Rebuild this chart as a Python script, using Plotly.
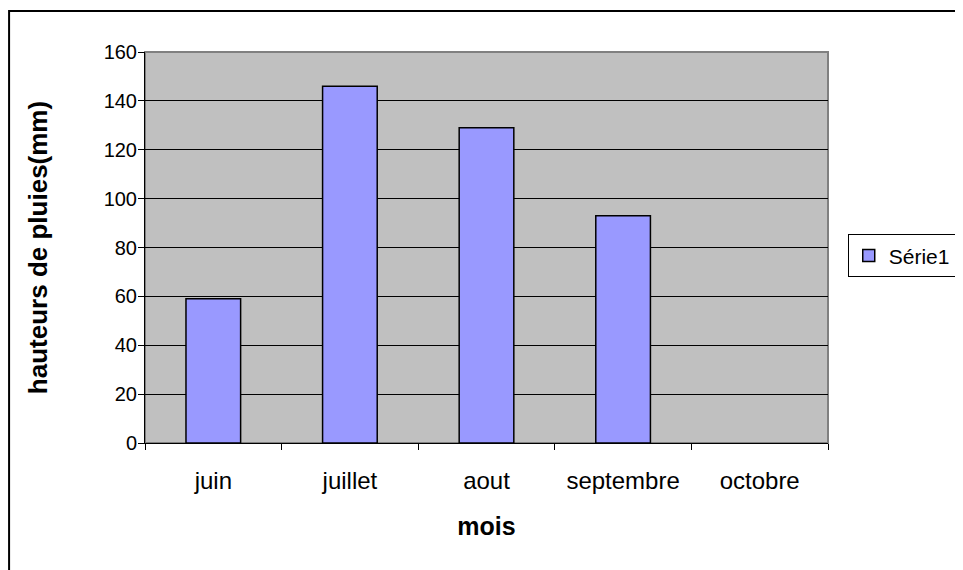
import plotly.graph_objects as go

categories = ["juin", "juillet", "aout", "septembre", "octobre"]
values = [59, 146, 129, 93, None]
series_name = "Série1"
y_ticks = [0, 20, 40, 60, 80, 100, 120, 140, 160]

FONT = "Liberation Sans, Arial, sans-serif"

fig = go.Figure()
fig.add_trace(go.Bar(
    x=categories, y=values, name=series_name,
    marker=dict(color="#9999FF", line=dict(color="black", width=1.5)),
    showlegend=True,
))

fig.update_layout(
    width=963, height=570,
    margin=dict(l=137, r=143, t=44, b=135, autoexpand=False),
    paper_bgcolor="white",
    plot_bgcolor="#C0C0C0",
    bargap=0.6,
    font=dict(family=FONT, size=22, color="black"),
    showlegend=True,
    legend=dict(
        xref="container", yref="container",
        x=0.872, y=0.565, xanchor="left", yanchor="middle",
        bordercolor="black", borderwidth=1, bgcolor="white",
        font=dict(size=21), itemwidth=30,
    ),
    xaxis=dict(
        title=dict(text="<b>mois</b>", font=dict(size=25), standoff=24),
        tickfont=dict(size=24),
        tickson="boundaries", ticks="outside", ticklen=6, tickcolor="black",
        ticklabelstandoff=16,
        showline=True, linecolor="black", linewidth=1,
        showgrid=False, mirror=False,
    ),
    yaxis=dict(
        title=dict(text="<b>hauteurs de pluies(mm)</b>", font=dict(size=26), standoff=48),
        tickfont=dict(size=20),
        range=[0, 160], tickvals=y_ticks, ticks="outside", ticklen=6,
        ticklabelstandoff=-3,
        tickcolor="black", showline=True, linecolor="black", linewidth=1,
        showgrid=True, gridcolor="black", gridwidth=1, zeroline=False,
    ),
    shapes=[
        dict(type="rect", xref="paper", yref="paper", x0=0, x1=1, y0=0, y1=1,
             line=dict(color="#808080", width=2), layer="below"),
        dict(type="rect", xref="paper", yref="paper",
             x0=-0.199, x1=1.3, y0=-0.5, y1=1.105,
             line=dict(color="black", width=2)),
    ],
)

fig.write_html("out.html")
